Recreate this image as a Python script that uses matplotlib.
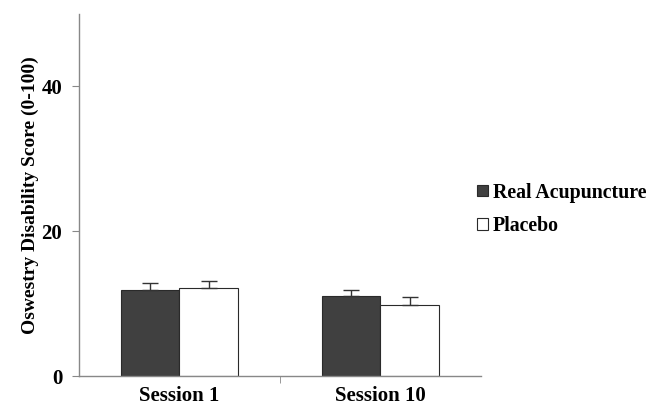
import matplotlib.pyplot as plt
import numpy as np

sessions = ["Session 1", "Session 10"]
groups = ["Real Acupuncture", "Placebo"]
real_mean = [11.9, 11.0]
real_err = [0.9, 0.9]
placebo_mean = [12.2, 9.8]
placebo_err = [0.9, 1.05]

plt.rcParams['font.family'] = 'Liberation Serif'
plt.rcParams['font.weight'] = 'bold'

fig = plt.figure(figsize=(6.61, 4.08), dpi=100)
ax = fig.add_axes([0.1195, 0.0784, 0.608, 0.8873])

x = np.arange(len(sessions))
w = 0.29
ax.bar(x - w / 2, real_mean, w, color='#404040', edgecolor='#2a2a2a', linewidth=0.8,
       yerr=[np.zeros(2), real_err], capsize=6,
       error_kw=dict(ecolor='#333333', elinewidth=1, capthick=1), label=groups[0])
ax.bar(x + w / 2, placebo_mean, w, color='white', edgecolor='#2a2a2a', linewidth=0.8,
       yerr=[np.zeros(2), placebo_err], capsize=6,
       error_kw=dict(ecolor='#333333', elinewidth=1, capthick=1), label=groups[1])

ax.set_xlim(-0.5, 1.5)
ax.set_ylim(0, 50)
ax.set_yticks([0, 20, 40])
ax.set_xticks(x)
ax.set_xticklabels(sessions, fontsize=15, fontweight='bold')
ax.set_xticks([0.5], minor=True)
ax.tick_params(axis='x', which='major', length=0, pad=7)
ax.tick_params(axis='x', which='minor', length=5, direction='out', color='#888888')
ax.tick_params(axis='y', length=5, direction='out', color='#888888', labelsize=15, pad=7)
for lab in ax.get_yticklabels():
    lab.set_fontweight('bold')

for s in ['top', 'right']:
    ax.spines[s].set_visible(False)
for s in ['left', 'bottom']:
    ax.spines[s].set_color('#888888')
    ax.spines[s].set_linewidth(1)

ax.set_ylabel("Oswestry Disability Score (0-100)", fontsize=14, fontweight='bold', labelpad=2)

ax.legend(loc='center left', bbox_to_anchor=(0.99, 0.46), frameon=False,
          borderpad=0, borderaxespad=0,
          prop={'size': 14.3, 'weight': 'bold'}, handlelength=0.55, handleheight=0.55,
          handletextpad=0.25, labelspacing=0.7)

fig.savefig("out.png", dpi=100)
